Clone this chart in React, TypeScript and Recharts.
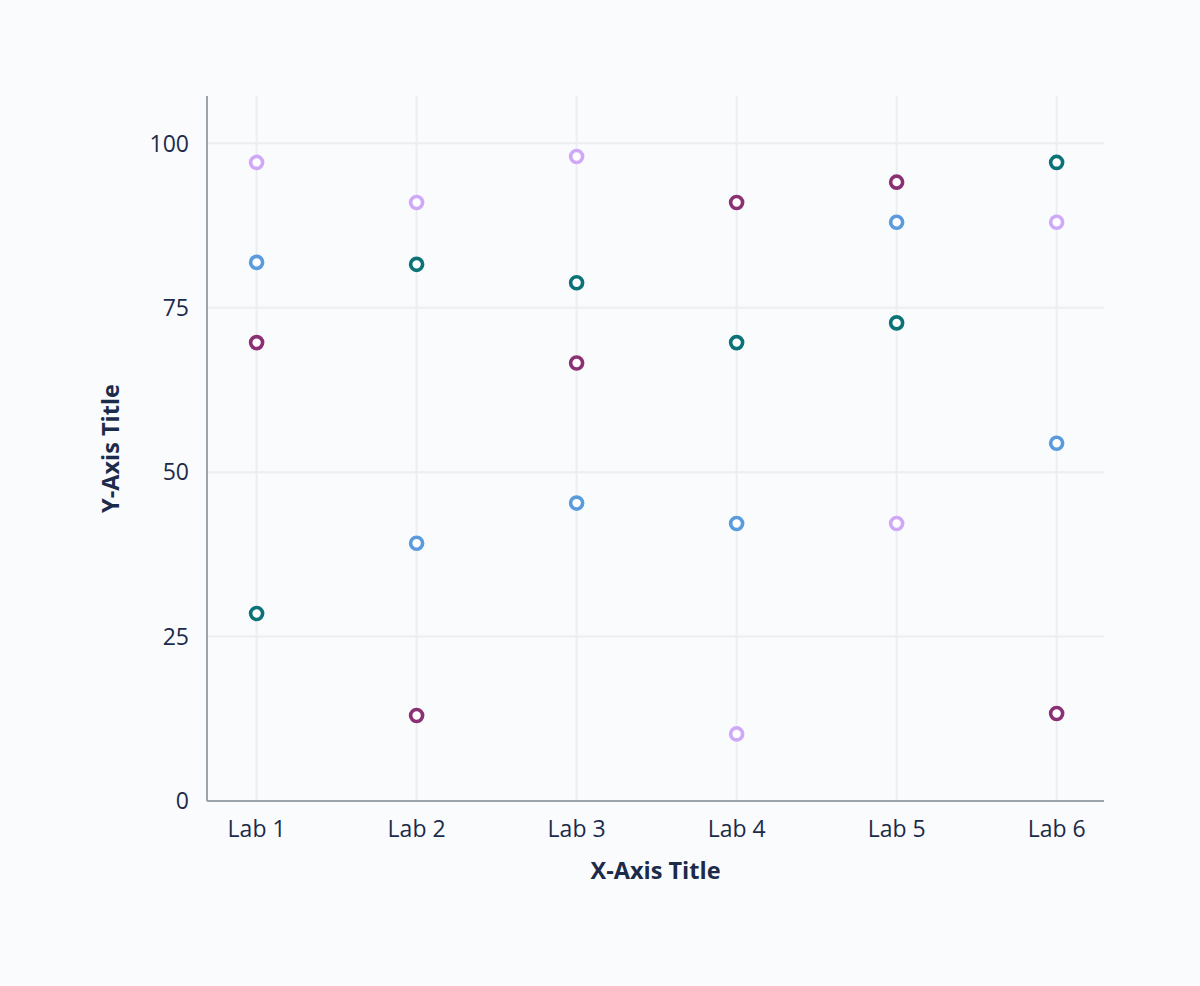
import { CartesianGrid, Scatter, ScatterChart, XAxis, YAxis, Label } from "recharts";

const LABS = ["Lab 1", "Lab 2", "Lab 3", "Lab 4", "Lab 5", "Lab 6"];

const SERIES_A = [97.1, 91.0, 98.0, 10.2, 42.2, 88.0];
const SERIES_B = [81.9, 39.2, 45.3, 42.2, 88.0, 54.4];
const SERIES_C = [69.7, 13.0, 66.6, 91.0, 94.1, 13.3];
const SERIES_D = [28.5, 81.6, 78.8, 69.7, 72.7, 97.1];

const Y_TICKS = [0, 25, 50, 75, 100];

const SERIES = [
  { name: "Series A", values: SERIES_A, color: "#cfa9f8" },
  { name: "Series B", values: SERIES_B, color: "#5a9bdd" },
  { name: "Series C", values: SERIES_C, color: "#8a3073" },
  { name: "Series D", values: SERIES_D, color: "#0b7278" },
];

const TEXT = "#1c2b4a";
const FONT = "'Open Sans', 'Noto Sans', sans-serif";

const toPoints = (values: number[]) => values.map((v, i) => ({ x: i + 1, y: v }));

const Ring = (props: any) => {
  const { cx, cy, fill } = props;
  if (cx == null || cy == null) return null;
  return <circle cx={cx} cy={cy} r={6} fill="#ffffff" stroke={fill} strokeWidth={3.6} />;
};

export default function App() {
  return (
    <div
      style={{
        position: "absolute",
        left: 0,
        top: 0,
        width: 1200,
        height: 986,
        background: "#f9fbfd",
        fontFamily: FONT,
      }}
    >
      <ScatterChart
        width={1200}
        height={986}
        margin={{ top: 96, right: 96, bottom: 125, left: 147 }}
      >
        <CartesianGrid stroke="#eceef1" strokeWidth={2} syncWithTicks />
        <XAxis
          type="number"
          dataKey="x"
          domain={[0.69, 6.296]}
          ticks={[1, 2, 3, 4, 5, 6]}
          tickFormatter={(v: number) => LABS[v - 1]}
          allowDataOverflow
          tickLine={false}
          axisLine={{ stroke: "#9ea4ab", strokeWidth: 2 }}
          tick={{ fill: TEXT, fontSize: 23, fontFamily: FONT }}
          tickMargin={14}
          height={60}
        >
          <Label
            value="X-Axis Title"
            position="insideBottom"
            offset={-18}
            style={{ fill: TEXT, fontSize: 23.5, fontWeight: 700, fontFamily: FONT }}
          />
        </XAxis>
        <YAxis
          type="number"
          dataKey="y"
          domain={[0, 107.2]}
          ticks={Y_TICKS}
          allowDataOverflow
          tickLine={false}
          axisLine={{ stroke: "#9ea4ab", strokeWidth: 2 }}
          tick={{ fill: TEXT, fontSize: 23, fontFamily: FONT }}
          tickMargin={12}
          width={60}
        >
          <Label
            value="Y-Axis Title"
            angle={-90}
            position="insideLeft"
            offset={-36}
            style={{ fill: TEXT, fontSize: 23.5, fontWeight: 700, fontFamily: FONT, textAnchor: "middle" }}
          />
        </YAxis>
        {SERIES.map((s) => (
          <Scatter
            key={s.name}
            name={s.name}
            data={toPoints(s.values)}
            fill={s.color}
            shape={<Ring />}
            isAnimationActive={false}
          />
        ))}
      </ScatterChart>
    </div>
  );
}
